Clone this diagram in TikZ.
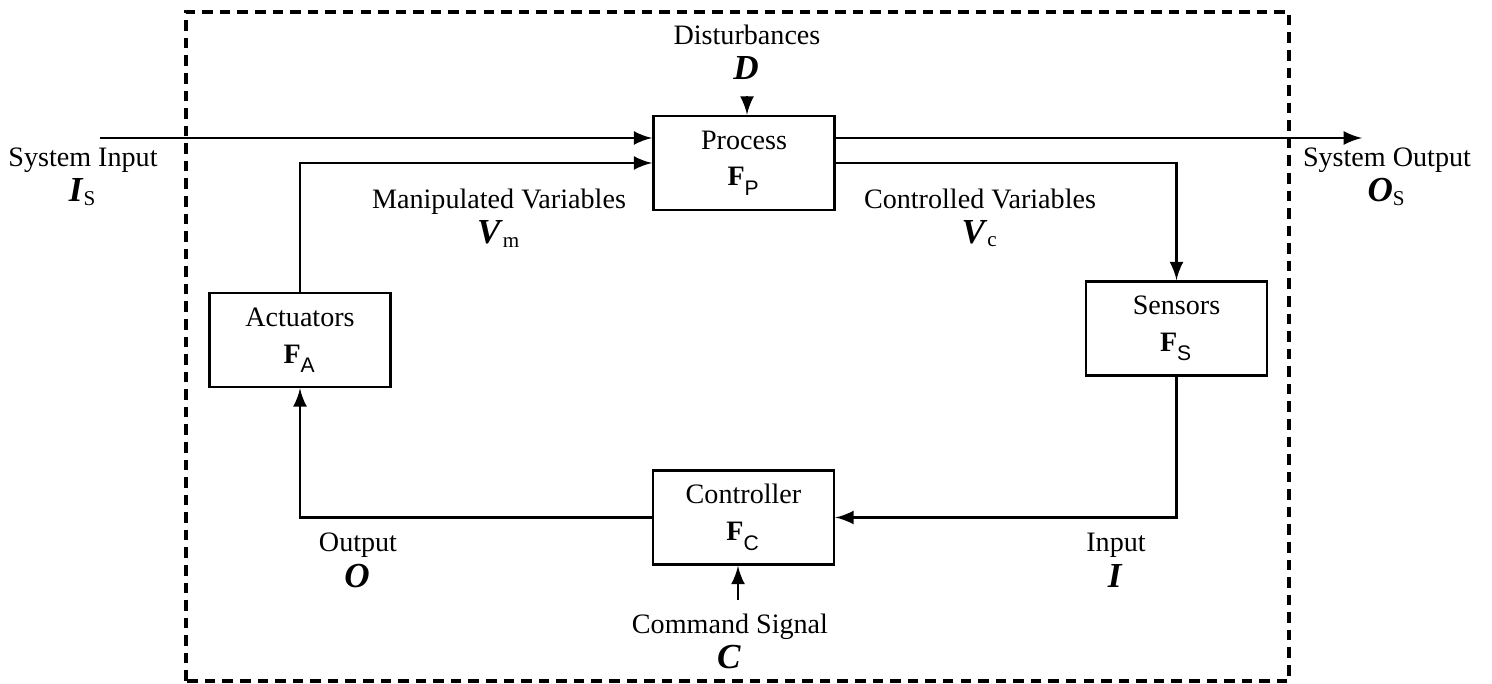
\documentclass[tikz,border=0pt]{standalone}
\usepackage{fontspec}
\setmainfont{Liberation Serif}
\newfontfamily\subsans{Liberation Sans}

\newcommand{\bvar}[2]{{\fontsize{10}{12}\selectfont\textbf{\textit{#1}}}\textsubscript{#2}}
\newcommand{\fun}[1]{\textbf{F}\raisebox{-0.35ex}{\textsubscript{\subsans #1}}}

\begin{document}
\begin{tikzpicture}[thick, font=\fontsize{8}{10}\selectfont,
    blk/.style={draw, minimum width=1.81cm, minimum height=0.94cm, align=center, font=\fontsize{8}{10.5}\selectfont},
    lbl/.style={align=center}]
    \useasboundingbox (0,0) rectangle (14.92,6.84);

    \draw[line width=1.1pt, dash pattern=on 3pt off 2pt] (1.86,0.03) rectangle (12.89,6.72);

    \node[blk] (proc) at (7.44,5.21) {Process\\\fun{P}};
    \node[blk] (act) at (3.00,3.44) {Actuators\\\fun{A}};
    \node[blk] (sens) at (11.765,3.555) {Sensors\\\fun{S}};
    \node[blk] (ctrl) at (7.435,1.665) {Controller\\\fun{C}};

    \node[lbl] (dist) at (7.47,6.30) {Disturbances\\\bvar{D}{}};
    \node[lbl] (sysinlbl) at (0.83,5.07) {System Input\\\bvar{I}{S}};
    \node[lbl] (sysoutlbl) at (13.87,5.07) {System Output\\\bvar{O}{S}};
    \node[lbl] (manip) at (4.99,4.66) {Manipulated Variables\\\bvar{V}{m}};
    \node[lbl] (contr) at (9.80,4.66) {Controlled Variables\\\bvar{V}{c}};
    \node[lbl] (outlbl) at (3.58,1.22) {Output\\\bvar{O}{}};
    \node[lbl] (inlbl) at (11.16,1.22) {Input\\\bvar{I}{}};
    \node[lbl] (cmd) at (7.30,0.41) {Command Signal\\\bvar{C}{}};

    \coordinate (sysin) at (1.00,5.46);
    \coordinate (sysout) at (13.62,5.46);
    \coordinate (cmdin) at (7.38,0.84);

    \draw[-latex] (sysin) -- (sysin -| proc.west);
    \draw[-latex] (sysin -| proc.east) -- (sysout);
    \draw[-latex] (dist.south) -- (dist.south |- proc.north);

    \draw[-latex] (act.north) |- (proc.west);
    \draw[-latex] (proc.east) -| (sens.north);
    \draw[-latex] (sens.south) |- (ctrl.east);
    \draw[-latex] (ctrl.west) -| (act.south);
    \draw[-latex] (cmdin) -- (cmdin |- ctrl.south);

\end{tikzpicture}
\end{document}
